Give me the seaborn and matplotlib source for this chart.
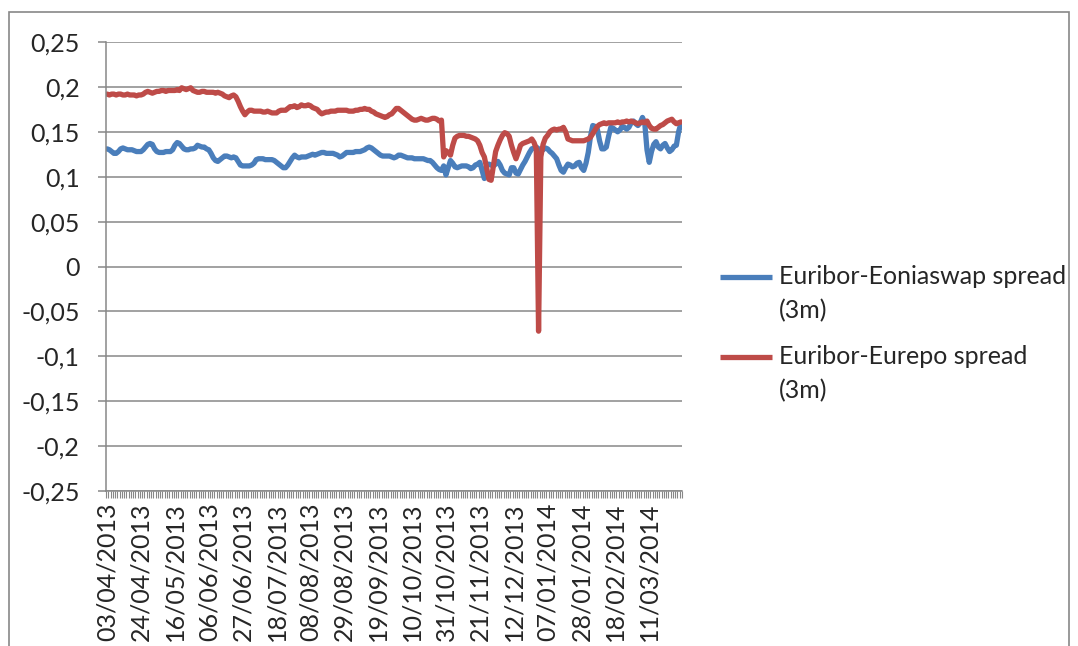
"""Euribor spreads, April 2013 - March 2014."""

import numpy as np
import pandas as pd
import seaborn as sns
import matplotlib

matplotlib.use("Agg")
import matplotlib.pyplot as plt
import matplotlib.transforms as mtransforms
from matplotlib.lines import Line2D
from matplotlib.patches import Rectangle

# TARGET closing days inside the period (the axis skips them)
HOLIDAYS = ["2013-05-01", "2013-12-25", "2013-12-26", "2014-01-01"]

SERIES = ["Euribor-Eoniaswap spread (3m)", "Euribor-Eurepo spread (3m)"]
LEGEND_LABELS = ["Euribor-Eoniaswap spread\n(3m)", "Euribor-Eurepo spread\n(3m)"]
COLORS = ["#4A7EBB", "#BE4B48"]

EONIASWAP = [
    0.131, 0.130, 0.128, 0.126, 0.126, 0.128, 0.131, 0.132, 0.131, 0.130,
    0.130, 0.130, 0.129, 0.128, 0.128, 0.128, 0.130, 0.133, 0.136, 0.137,
    0.136, 0.131, 0.128, 0.127, 0.127, 0.127, 0.128, 0.128, 0.128, 0.130,
    0.135, 0.138, 0.137, 0.134, 0.131, 0.130, 0.130, 0.131, 0.131, 0.132,
    0.135, 0.134, 0.133, 0.133, 0.131, 0.130, 0.126, 0.121, 0.118, 0.117,
    0.119, 0.121, 0.123, 0.123, 0.122, 0.121, 0.122, 0.121, 0.117, 0.113,
    0.112, 0.112, 0.112, 0.112, 0.113, 0.115, 0.119, 0.120, 0.120, 0.120,
    0.119, 0.119, 0.119, 0.119, 0.118, 0.116, 0.114, 0.112, 0.110, 0.110,
    0.113, 0.117, 0.121, 0.124, 0.122, 0.121, 0.122, 0.122, 0.122, 0.123,
    0.124, 0.125, 0.124, 0.125, 0.126, 0.127, 0.127, 0.126, 0.126, 0.126,
    0.126, 0.125, 0.124, 0.122, 0.123, 0.125, 0.127, 0.127, 0.127, 0.127,
    0.128, 0.128, 0.128, 0.129, 0.130, 0.132, 0.133, 0.132, 0.130, 0.128,
    0.126, 0.124, 0.123, 0.123, 0.123, 0.123, 0.122, 0.121, 0.122, 0.124,
    0.124, 0.123, 0.122, 0.121, 0.121, 0.121, 0.120, 0.120, 0.120, 0.120,
    0.120, 0.119, 0.118, 0.118, 0.116, 0.113, 0.110, 0.108, 0.107, 0.112,
    0.102, 0.110, 0.118, 0.115, 0.111, 0.110, 0.111, 0.112, 0.112, 0.112,
    0.111, 0.109, 0.110, 0.113, 0.114, 0.116, 0.107, 0.098, 0.112, 0.114,
    0.113, 0.112, 0.114, 0.117, 0.113, 0.107, 0.104, 0.103, 0.102, 0.110,
    0.110, 0.104, 0.103, 0.108, 0.113, 0.117, 0.122, 0.127, 0.131, 0.132,
    0.133, 0.131, 0.129, 0.130, 0.132, 0.131, 0.128, 0.126, 0.123, 0.120,
    0.113, 0.107, 0.105, 0.110, 0.114, 0.113, 0.111, 0.112, 0.115, 0.116,
    0.110, 0.107, 0.115, 0.127, 0.145, 0.157, 0.156, 0.153, 0.140, 0.131,
    0.131, 0.133, 0.145, 0.155, 0.154, 0.152, 0.150, 0.152, 0.156, 0.155,
    0.153, 0.155, 0.160, 0.162, 0.159, 0.157, 0.160, 0.166, 0.160, 0.130,
    0.116, 0.128, 0.136, 0.139, 0.133, 0.131, 0.135, 0.137, 0.132, 0.128,
    0.130, 0.134, 0.135, 0.150, 0.159,
]

EUREPO = [
    0.192, 0.191, 0.192, 0.192, 0.191, 0.192, 0.192, 0.191, 0.191, 0.192,
    0.191, 0.191, 0.191, 0.190, 0.191, 0.191, 0.192, 0.194, 0.195, 0.194,
    0.193, 0.194, 0.195, 0.195, 0.196, 0.196, 0.195, 0.196, 0.196, 0.196,
    0.196, 0.197, 0.196, 0.199, 0.198, 0.197, 0.198, 0.199, 0.196, 0.195,
    0.194, 0.194, 0.195, 0.195, 0.194, 0.194, 0.194, 0.194, 0.193, 0.194,
    0.193, 0.192, 0.190, 0.189, 0.188, 0.190, 0.191, 0.189, 0.184, 0.178,
    0.173, 0.169, 0.172, 0.174, 0.174, 0.173, 0.173, 0.173, 0.173, 0.172,
    0.172, 0.173, 0.172, 0.171, 0.171, 0.171, 0.173, 0.174, 0.174, 0.174,
    0.176, 0.178, 0.178, 0.179, 0.177, 0.178, 0.180, 0.179, 0.179, 0.180,
    0.179, 0.177, 0.176, 0.175, 0.172, 0.170, 0.171, 0.172, 0.172, 0.173,
    0.173, 0.173, 0.174, 0.174, 0.174, 0.174, 0.174, 0.173, 0.173, 0.173,
    0.174, 0.174, 0.175, 0.175, 0.176, 0.175, 0.175, 0.173, 0.172, 0.170,
    0.169, 0.168, 0.167, 0.166, 0.167, 0.169, 0.170, 0.173, 0.176, 0.176,
    0.174, 0.172, 0.170, 0.168, 0.166, 0.164, 0.163, 0.163, 0.164, 0.165,
    0.164, 0.163, 0.163, 0.164, 0.165, 0.165, 0.164, 0.162, 0.163, 0.122,
    0.129, 0.127, 0.124, 0.135, 0.143, 0.145, 0.146, 0.146, 0.146, 0.145,
    0.145, 0.144, 0.143, 0.142, 0.140, 0.135, 0.127, 0.122, 0.110, 0.097,
    0.096, 0.112, 0.128, 0.135, 0.141, 0.146, 0.149, 0.148, 0.145, 0.135,
    0.127, 0.120, 0.127, 0.135, 0.137, 0.138, 0.139, 0.140, 0.142, 0.138,
    0.131, -0.072, 0.122, 0.136, 0.143, 0.146, 0.150, 0.152, 0.153, 0.152,
    0.153, 0.153, 0.155, 0.150, 0.142, 0.141, 0.140, 0.140, 0.140, 0.140,
    0.140, 0.140, 0.141, 0.142, 0.144, 0.148, 0.152, 0.156, 0.158, 0.159,
    0.160, 0.159, 0.160, 0.160, 0.160, 0.160, 0.161, 0.160, 0.161, 0.161,
    0.162, 0.161, 0.162, 0.161, 0.160, 0.159, 0.160, 0.161, 0.160, 0.162,
    0.157, 0.154, 0.153, 0.153, 0.155, 0.157, 0.158, 0.160, 0.162, 0.163,
    0.164, 0.161, 0.159, 0.160, 0.161,
]

YTICKS = [0.25, 0.2, 0.15, 0.1, 0.05, 0, -0.05, -0.1, -0.15, -0.2, -0.25]
LABEL_EVERY = 15

GRAY = "#878787"
FS = 18
W, H = 1078, 646


def comma(v):
    """Excel style decimal comma."""
    return f"{v:g}".replace(".", ",")


def main():
    """Go Main Go."""
    dates = pd.bdate_range("2013-04-03", "2014-03-31", freq="C", holidays=HOLIDAYS)
    df = pd.DataFrame(
        {"pos": np.arange(len(dates)), SERIES[0]: EONIASWAP, SERIES[1]: EUREPO}
    )
    long = df.melt(id_vars="pos", var_name="series", value_name="spread")

    sns.set_style("white")
    plt.rcParams["font.family"] = ["Lato", "DejaVu Sans"]

    fig = plt.figure(figsize=(W / 100, H / 100), dpi=100)
    ax = fig.add_axes([106 / W, 155 / H, 576 / W, 449 / H])
    sns.lineplot(
        data=long,
        x="pos",
        y="spread",
        hue="series",
        hue_order=SERIES,
        palette=COLORS,
        estimator=None,
        linewidth=3.8,
        legend=False,
        ax=ax,
    )
    for line in ax.lines:
        line.set_solid_joinstyle("round")
        line.set_solid_capstyle("round")

    ax.set_xlim(-0.5, len(dates) - 0.5)
    ax.set_ylim(-0.25, 0.25)
    ax.set_xlabel("")
    ax.set_ylabel("")

    ax.set_yticks(YTICKS)
    ax.set_yticklabels([comma(v) for v in YTICKS], fontsize=FS)
    ax.yaxis.grid(True, color=GRAY, linewidth=1.1)
    ax.tick_params(axis="y", length=6, width=1.1, color=GRAY, pad=13, left=True)

    ticks = np.arange(0, len(dates), LABEL_EVERY)
    ax.set_xticks(ticks)
    ax.set_xticklabels(
        [dates[i].strftime("%d/%m/%Y") for i in ticks], rotation=90, fontsize=FS
    )
    shift = mtransforms.ScaledTranslation(4 / 100, 0, fig.dpi_scale_trans)
    for lab in ax.get_xticklabels():
        lab.set_transform(lab.get_transform() + shift)
    ax.set_xticks(np.arange(-0.5, len(dates), 1), minor=True)
    ax.tick_params(axis="x", which="major", length=0, pad=8)
    ax.tick_params(
        axis="x", which="minor", length=5, width=0.8, color=GRAY, bottom=True
    )

    for side in ["top", "right"]:
        ax.spines[side].set_visible(False)
    for side in ["left", "bottom"]:
        ax.spines[side].set_color(GRAY)
        ax.spines[side].set_linewidth(1.1)

    # legend, label wrapped like the original
    for k, (lab, col) in enumerate(zip(LEGEND_LABELS, COLORS)):
        y = (H - 277 - 80 * k) / H
        fig.add_artist(
            Line2D([720 / W, 772 / W], [y, y], color=col, linewidth=3.8,
                   solid_capstyle="butt")
        )
        first, second = lab.split("\n")
        fig.text(779 / W, y, first, fontsize=FS, va="center")
        fig.text(779 / W, y - 34 / H, second, fontsize=FS, va="center")

    # chart area border
    fig.add_artist(
        Rectangle((9 / W, -0.05), 1060 / W, 1.05 - 12 / H, fill=False,
                  edgecolor=GRAY, linewidth=1.2)
    )

    plt.savefig("out.png", dpi=100)


if __name__ == "__main__":
    main()
